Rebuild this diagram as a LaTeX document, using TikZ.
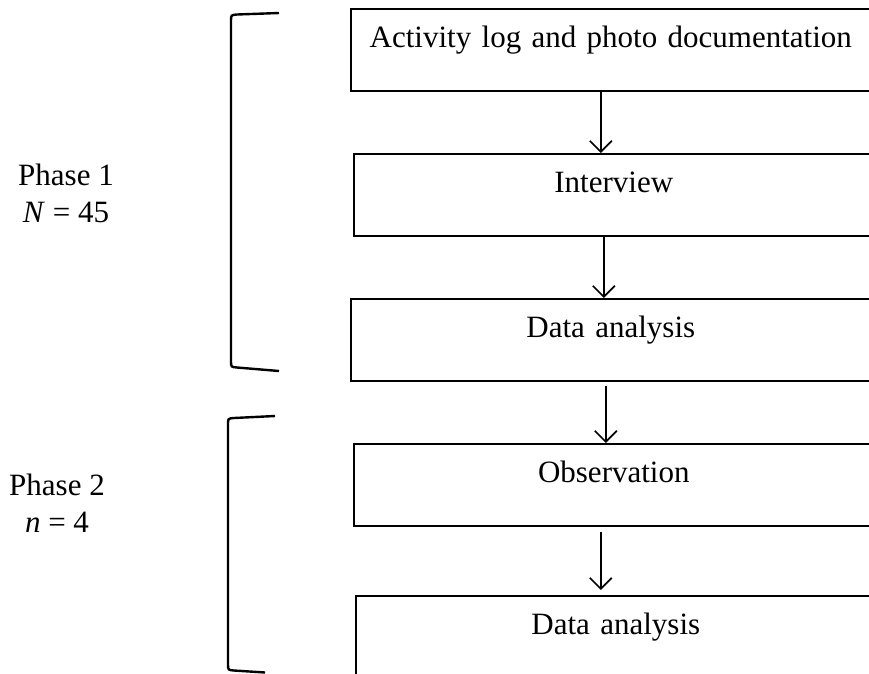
\documentclass[tikz,border=0pt]{standalone}
\usepackage{fontspec}
\setmainfont{Liberation Serif}
\usetikzlibrary{arrows.meta}

\begin{document}
\begin{tikzpicture}[x=1pt,y=-1pt,
  stepbox/.style={draw=black,line width=1.6pt,anchor=north west,inner sep=0pt,text width=520pt,align=center,text height=38.5pt,text depth=43.5pt},
  phase/.style={align=center,inner sep=0pt},
  flow/.style={draw=black,line width=1.7pt,-{Straight Barb[length=11pt,width=22pt]}},
  bracket/.style={draw=black,line width=2.4pt}]
\tikzstyle{every node}+=[font=\fontsize{31}{37}\selectfont]
\useasboundingbox (0,0) rectangle (869,673);
\clip (0,0) rectangle (869,673);
\node [stepbox] (act) at (350,8) {Activity log and photo documentation};
\node [stepbox] (int) at (353,153) {Interview};
\node [stepbox] (ana1) at (350,298) {Data analysis};
\node [stepbox] (obs) at (353,443) {Observation};
\node [stepbox] (ana2) at (355,595) {Data analysis};
\draw [flow] ([xshift=-10pt]act.south) -- ([xshift=-10pt]act.south |- int.north);
\draw [flow] ([xshift=-10pt]int.south) -- ([xshift=-10pt]int.south |- ana1.north);
\draw [flow,shorten <=4pt] ([xshift=-5pt]ana1.south) -- ([xshift=-5pt]ana1.south |- obs.north);
\draw [flow,shorten <=5pt,shorten >=5pt] ([xshift=-13pt]obs.south) -- ([xshift=-13pt]obs.south |- ana2.north);
\draw [bracket] (279,13) -- (237,14.5) .. controls (231,15) .. (231,21) -- (231,361) .. controls (231,367) .. (237,367.5) -- (279,371);
\draw [bracket] (275,416) -- (234,418) .. controls (228,418.5) .. (228,424) -- (228,664) .. controls (228,670) .. (234,670.5) -- (265,672.5);
\node [phase,anchor=base] (ph1) at (66,222) {Phase 1\\\textit{N} = 45};
\node [phase,anchor=base] (ph2) at (57,532) {Phase 2\\\textit{n} = 4};
\end{tikzpicture}
\end{document}
